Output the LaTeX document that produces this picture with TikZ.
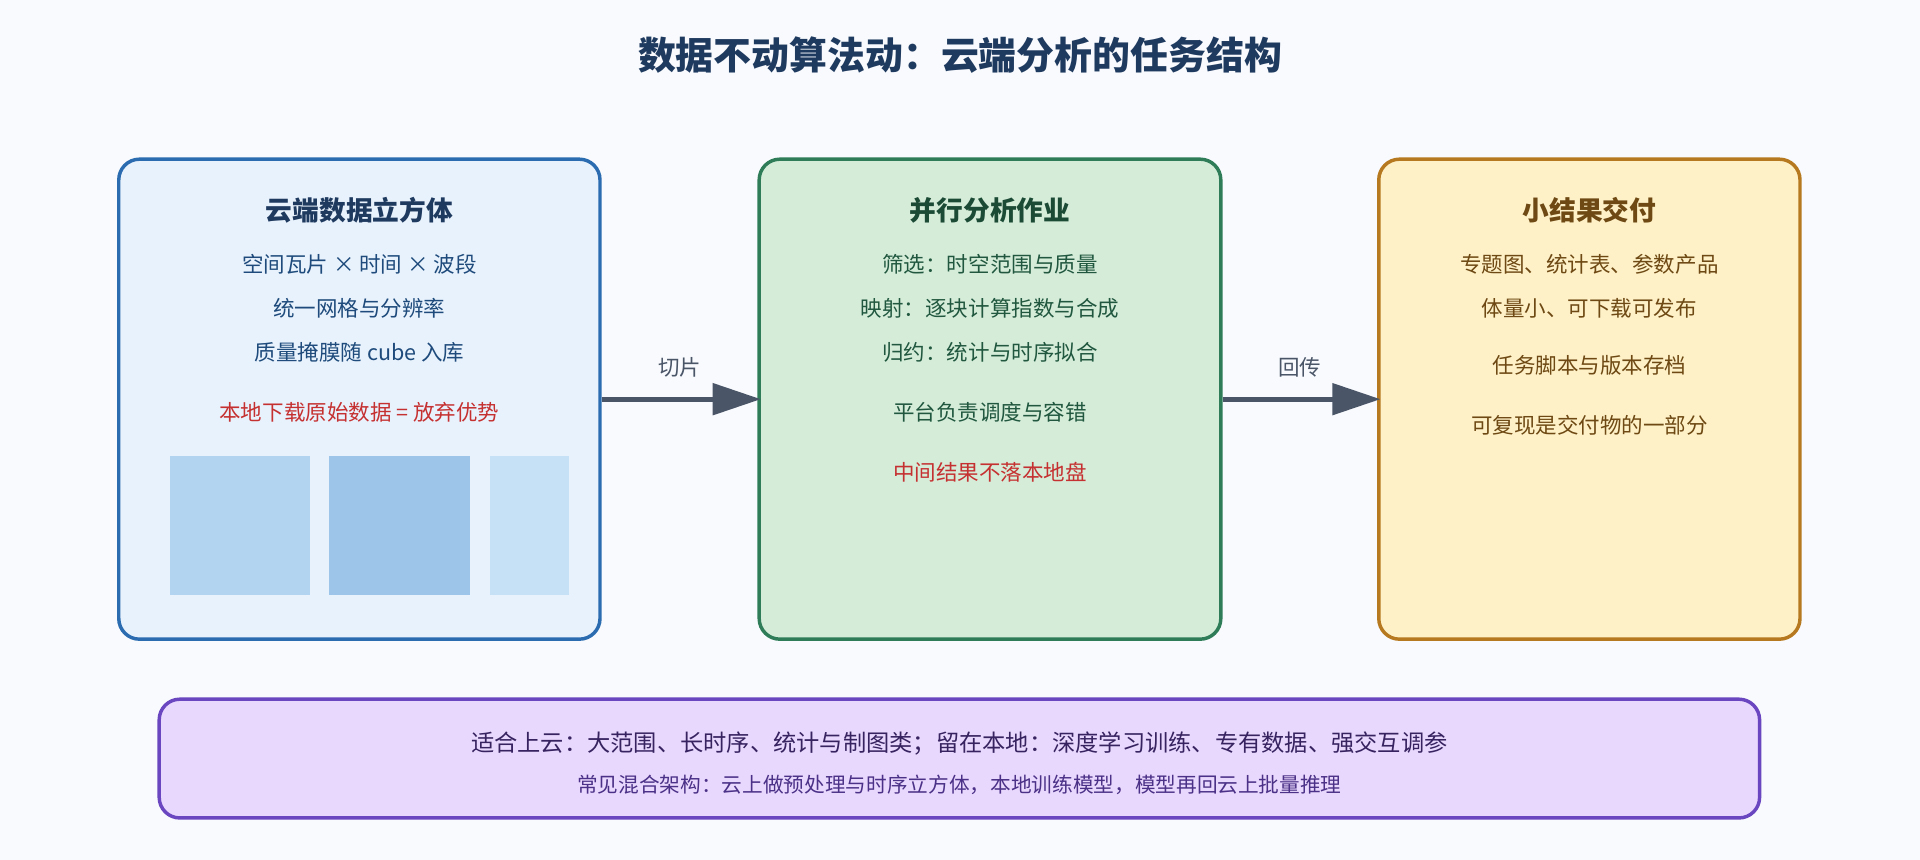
\documentclass[tikz,border=0pt]{standalone}
\usepackage{fontspec}
\setmainfont{Noto Sans CJK SC}
\usetikzlibrary{arrows.meta}
\usetikzlibrary{positioning}
\definecolor{pagebg}{HTML}{F8FAFD}
\definecolor{titleblue}{HTML}{1F3A5F}
\definecolor{cubeline}{HTML}{2B6CB0}
\definecolor{cubefill}{HTML}{E8F2FD}
\definecolor{tilea}{HTML}{B3D4F0}
\definecolor{tileb}{HTML}{9DC5EA}
\definecolor{tilec}{HTML}{C6E0F5}
\definecolor{jobline}{HTML}{2E7D58}
\definecolor{jobfill}{HTML}{D5ECD9}
\definecolor{resline}{HTML}{B7791F}
\definecolor{resfill}{HTML}{FEF1C8}
\definecolor{noteline}{HTML}{6B46C1}
\definecolor{notefill}{HTML}{E9D8FD}
\definecolor{warnred}{HTML}{C53030}
\definecolor{arrowgrey}{HTML}{4A5568}
\tikzset{
  stage/.style={draw, line width=2pt, rounded corners=12pt, inner sep=0pt},
  body/.style={font=\fontsize{12.5}{14}\selectfont},
  head/.style={font=\fontsize{15.5}{18}\selectfont\bfseries},
  flow/.style={draw=arrowgrey, line width=3pt, -{Triangle[length=28pt,width=18pt]}, shorten >=-2pt},
}
\begin{document}
\begin{tikzpicture}[x=0.025cm, y=-0.025cm]
        \useasboundingbox[fill=pagebg] (0,0) rectangle (1568,702);
        % title
        \node[font=\fontsize{22}{26}\selectfont\bfseries, text=titleblue] (title) at (784,45) {数据不动算法动：云端分析的任务结构};
        % boxes
        \node[stage, draw=cubeline, fill=cubefill, minimum width=393*0.025cm, minimum height=392*0.025cm] (cube) at (293.5,326) {};
        \node[stage, draw=jobline, fill=jobfill, minimum width=377*0.025cm, minimum height=392*0.025cm] (job) at (808.5,326) {};
        \node[stage, draw=resline, fill=resfill, minimum width=344*0.025cm, minimum height=392*0.025cm] (res) at (1298,326) {};
        % cube box
        \node[head, text=titleblue] (cubehead) at (293.5,172) {云端数据立方体};
        \node[body, text=cubeline!70!black] (cubea) at (293.5,216) {空间瓦片 × 时间 × 波段};
        \node[body, text=cubeline!70!black] (cubeb) at (293.5,252) {统一网格与分辨率};
        \node[body, text=cubeline!70!black] (cubec) at (293.5,288) {质量掩膜随 cube 入库};
        \node[body, text=warnred] (cubed) at (293.5,337) {本地下载原始数据 = 放弃优势};
        \fill[tilea] (139,372) rectangle (253,486);
        \fill[tileb] (269,372) rectangle (384,486);
        \fill[tilec] (400,372) rectangle (465,486);
        % job box
        \node[head, text=jobline!60!black] (jobhead) at (808.5,172) {并行分析作业};
        \node[body, text=jobline!70!black] (joba) at (808.5,216) {筛选：时空范围与质量};
        \node[body, text=jobline!70!black] (jobb) at (808.5,252) {映射：逐块计算指数与合成};
        \node[body, text=jobline!70!black] (jobc) at (808.5,288) {归约：统计与时序拟合};
        \node[body, text=jobline!70!black] (jobd) at (808.5,337) {平台负责调度与容错};
        \node[body, text=warnred] (jobe) at (808.5,386) {中间结果不落本地盘};
        % result box
        \node[head, text=resline!60!black] (reshead) at (1298,172) {小结果交付};
        \node[body, text=resline!60!black] (resa) at (1298,216) {专题图、统计表、参数产品};
        \node[body, text=resline!60!black] (resb) at (1298,252) {体量小、可下载可发布};
        \node[body, text=resline!60!black] (resc) at (1298,298) {任务脚本与版本存档};
        \node[body, text=resline!60!black] (resd) at (1298,347) {可复现是交付物的一部分};
        % arrows
        \draw[flow] (cube.east) -- (job.west) node[midway, above=8pt, body, text=arrowgrey] (cut) {切片};
        \draw[flow] (job.east) -- (res.west) node[midway, above=8pt, body, text=arrowgrey] (back) {回传};
        % note
        \node[stage, draw=noteline, fill=notefill, minimum width=1307*0.025cm, minimum height=97*0.025cm] (note) at (783.5,619.5) {};
        \node[font=\fontsize{13.5}{16}\selectfont, text=noteline!50!black] (notea) at (783.5,607) {适合上云：大范围、长时序、统计与制图类；留在本地：深度学习训练、专有数据、强交互调参};
        \node[font=\fontsize{12}{14}\selectfont, text=noteline!70!black] (noteb) at (783.5,641) {常见混合架构：云上做预处理与时序立方体，本地训练模型，模型再回云上批量推理};
\end{tikzpicture}
\end{document}
